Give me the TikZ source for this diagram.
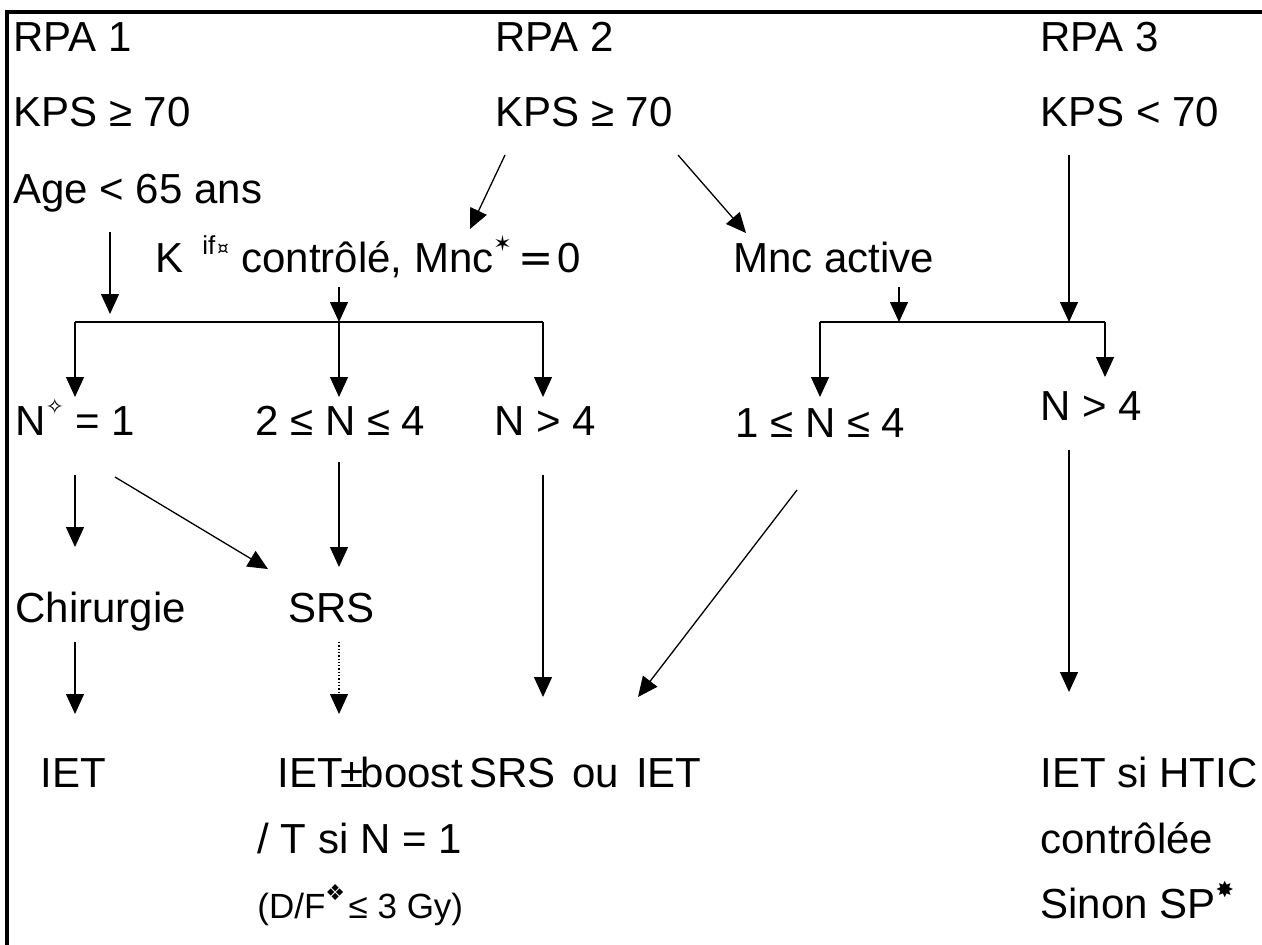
\documentclass[tikz,border=0pt]{standalone}
\usepackage{fontspec}
\setmainfont{Liberation Sans}
\newfontfamily\symf{DejaVu Sans}
\usetikzlibrary{arrows.meta}
\newcommand{\supr}[1]{\raisebox{0.5em}{\fontsize{11}{13}\selectfont #1}}
\begin{document}
\begin{tikzpicture}[x=0.5pt,y=-0.5pt,
  txt/.style={anchor=base west, inner sep=0pt, font=\fontsize{21}{25}\selectfont},
  small/.style={txt, font=\fontsize{17.5}{21}\selectfont},
  arr/.style={-{Triangle[length=10pt,width=9pt]}, line width=0.65pt},
  ln/.style={line width=0.65pt},
  frame/.style={line width=1.6pt}]
\useasboundingbox (0,0) rectangle (1262,944);
\draw[frame] (7,960) -- (7,12) -- (1280,12);
% texts
\node[txt] (rpa1) at (13,51) {RPA 1};
\node[txt] (kps1) at (13,126) {KPS ≥ 70};
\node[txt] (age) at (13,203) {Age < 65 ans};
\node[txt] (rpa2) at (495,51) {RPA 2};
\node[txt] (kps2) at (495,126) {KPS ≥ 70};
\node[txt] (rpa3) at (1040,51) {RPA 3};
\node[txt] (kps3) at (1040,126) {KPS < 70};
\node[txt] (kif) at (155,272) {K\hspace{0.45em}\raisebox{0.42em}{\fontsize{13}{15}\selectfont if\hspace{1pt}{\symf\fontsize{9}{11}\selectfont ¤}}\hspace{0.3em}contrôlé, Mnc\supr{\symf ✶}\hspace{0.15em}{\symf =}\hspace{0.1em}0};
\node[txt] (mnc) at (733,272) {Mnc active};
\node[txt] (n1) at (15,435) {N\supr{\symf ✧} = 1};
\node[txt] (n24) at (255,435) {2 ≤ N ≤ 4};
\node[txt] (n4a) at (494,435) {N > 4};
\node[txt] (n14) at (735,437) {1 ≤ N ≤ 4};
\node[txt] (n4b) at (1040,420) {N > 4};
\node[txt] (chir) at (15,622) {Chirurgie};
\node[txt] (srs) at (288,622) {SRS};
\node[txt] (iet) at (40,787) {IET};
\node[txt] (boost) at (277,787) {IET\hspace{-0.06em}±\hspace{-0.06em}boost};
\node[txt] (srsiet) at (469,787) {SRS\hspace{0.4em}ou\hspace{0.4em}IET};
\node[txt] (htic) at (1040,787) {IET si HTIC};
\node[txt] (tsi) at (257,853) {/ T si N = 1};
\node[txt] (ctrl) at (1040,853) {contrôlée};
\node[small] (df) at (257,918) {(D/F\supr{\symf ❖}\hspace{0.1em}≤ 3 Gy)};
\node[txt] (sinon) at (1040,918) {Sinon SP\supr{\symf ✸}};
% coordinates
\coordinate (a1) at (110,232); \coordinate (a1e) at (110,314);
\coordinate (b1) at (505,155); \coordinate (b1e) at (470,229);
\coordinate (c1) at (678,155); \coordinate (c1e) at (746,233);
\coordinate (d1) at (1069,155); \coordinate (d1e) at (1069,322);
\coordinate (k1) at (339,287); \coordinate (k1e) at (339,322);
\coordinate (m1) at (899,287); \coordinate (m1e) at (899,322);
\coordinate (barL) at (75,322); \coordinate (barM) at (339,322); \coordinate (barR) at (543,322);
\coordinate (tL) at (75,397); \coordinate (tM) at (339,397); \coordinate (tR) at (543,397);
\coordinate (bar2L) at (820,322); \coordinate (bar2R) at (1105,322);
\coordinate (t2L) at (820,397); \coordinate (t2R) at (1105,377);
\coordinate (e1) at (75,475); \coordinate (e1e) at (75,547);
\coordinate (f1) at (115,477); \coordinate (f1e) at (268,569);
\coordinate (g1) at (339,462); \coordinate (g1e) at (339,567);
\coordinate (h1) at (543,475); \coordinate (h1e) at (543,697);
\coordinate (i1) at (797,490); \coordinate (i1e) at (638,697);
\coordinate (j1) at (1069,450); \coordinate (j1e) at (1069,692);
\coordinate (l1) at (75,642); \coordinate (l1e) at (75,714);
\coordinate (o1) at (339,642); \coordinate (o1e) at (339,714);
% connectors
\draw[arr] (a1) -- (a1e);
\draw[arr] (b1) -- (b1e);
\draw[arr] (c1) -- (c1e);
\draw[arr] (d1) -- (d1e);
\draw[arr] (k1) -- (k1e);
\draw[arr] (m1) -- (m1e);
\draw[ln] (barL) -- (barR);
\draw[arr] (barL) -- (tL);
\draw[arr] (barM) -- (tM);
\draw[arr] (barR) -- (tR);
\draw[ln] (bar2L) -- (bar2R);
\draw[arr] (bar2L) -- (t2L);
\draw[arr] (bar2R) -- (t2R);
\draw[arr] (e1) -- (e1e);
\draw[arr] (f1) -- (f1e);
\draw[arr] (g1) -- (g1e);
\draw[arr] (h1) -- (h1e);
\draw[arr] (i1) -- (i1e);
\draw[arr] (j1) -- (j1e);
\draw[arr] (l1) -- (l1e);
\draw[arr, densely dotted] (o1) -- (o1e);
\end{tikzpicture}
\end{document}
